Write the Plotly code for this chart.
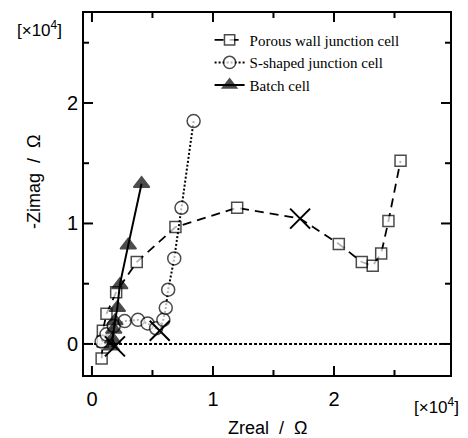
import plotly.graph_objects as go

# Values in units of 10^4 ohm
porous_x = [0.08, 0.09, 0.09, 0.12, 0.20, 0.37, 0.69, 1.20, 1.72, 2.04, 2.23, 2.32, 2.39, 2.45, 2.55]
porous_y = [-0.12, 0.02, 0.11, 0.25, 0.43, 0.68, 0.97, 1.13, 1.04, 0.83, 0.68, 0.65, 0.75, 1.02, 1.52]
porous_mark_idx = 8

sshape_x = [0.08, 0.12, 0.18, 0.27, 0.38, 0.46, 0.53, 0.56, 0.59, 0.61, 0.63, 0.68, 0.74, 0.84]
sshape_y = [0.02, 0.08, 0.15, 0.19, 0.20, 0.17, 0.13, 0.11, 0.20, 0.30, 0.45, 0.71, 1.13, 1.85]
sshape_mark_idx = 7

batch_x = [0.16, 0.19, 0.17, 0.18, 0.19, 0.21, 0.23, 0.30, 0.41]
batch_y = [-0.02, -0.02, 0.04, 0.12, 0.19, 0.30, 0.49, 0.82, 1.33]
batch_mark_idx = 1

series_names = ["Porous wall junction cell", "S-shaped junction cell", "Batch cell"]
major_ticks = [0, 1, 2]
minor_ticks = [0.5, 1.5, 2.5]
tick_labels = ["0", "1", "2"]

X_RANGE = [-0.074, 2.967]
Y_RANGE = [-0.266, 2.755]

W, H = 468, 438
ML, MR, MT, MB = 83, 17, 12, 62
PW, PH = W - ML - MR, H - MT - MB


def sizes(n, base, idx):
    return [(0 if i == idx else base) for i in range(n)]


fig = go.Figure()

fig.add_trace(go.Scatter(
    x=porous_x, y=porous_y, mode="lines+markers", name=series_names[0],
    line=dict(color="black", width=1.8, dash="9px,6px"),
    marker=dict(symbol="square", size=sizes(len(porous_x), 11, porous_mark_idx),
                color="white", line=dict(color="black", width=1.5)),
))
fig.add_trace(go.Scatter(
    x=sshape_x, y=sshape_y, mode="lines+markers", name=series_names[1],
    line=dict(color="black", width=2, dash="2px,2px"),
    marker=dict(symbol="circle", size=sizes(len(sshape_x), 13, sshape_mark_idx),
                color="white", line=dict(color="black", width=1.5)),
))
fig.add_trace(go.Scatter(
    x=batch_x, y=batch_y, mode="lines+markers", name=series_names[2],
    line=dict(color="black", width=2),
    marker=dict(symbol="triangle-up", size=sizes(len(batch_x), 14, batch_mark_idx),
                color="black", line=dict(color="black", width=1.5)),
))

# characteristic points marked with a large X on each curve
fig.add_trace(go.Scatter(
    x=[porous_x[porous_mark_idx], sshape_x[sshape_mark_idx], batch_x[batch_mark_idx]],
    y=[porous_y[porous_mark_idx], sshape_y[sshape_mark_idx], batch_y[batch_mark_idx]],
    mode="markers", showlegend=False, hoverinfo="skip",
    marker=dict(symbol="x-thin-open", size=20, color="black", line=dict(color="black", width=2)),
))

fig.add_hline(y=0, x0=0.03, x1=1, line=dict(color="black", width=2, dash="3px,2px"), layer="below")

# inward ticks on all four sides, drawn as a line trace in axis units
dx_per_px = (X_RANGE[1] - X_RANGE[0]) / PW
dy_per_px = (Y_RANGE[1] - Y_RANGE[0]) / PH
tx, ty = [], []
for ticks, L in ((major_ticks, 10), (minor_ticks, 6)):
    for t in ticks:
        tx += [t, t, None, t, t, None]
        ty += [Y_RANGE[0], Y_RANGE[0] + L * dy_per_px, None,
               Y_RANGE[1], Y_RANGE[1] - L * dy_per_px, None]
        tx += [X_RANGE[0], X_RANGE[0] + L * dx_per_px, None,
               X_RANGE[1], X_RANGE[1] - L * dx_per_px, None]
        ty += [t, t, None, t, t, None]
fig.add_trace(go.Scatter(x=tx, y=ty, mode="lines", showlegend=False, hoverinfo="skip",
                         line=dict(color="black", width=2), connectgaps=False))

shapes = [
    dict(type="rect", xref="paper", yref="paper", x0=0, x1=1, y0=0, y1=1,
         line=dict(color="black", width=2), fillcolor="rgba(0,0,0,0)"),
]

axis_common = dict(
    showline=False, ticks="", showgrid=False, zeroline=False,
    tickmode="array", tickvals=major_ticks, ticktext=tick_labels,
    tickfont=dict(family="Liberation Sans", size=20, color="black"),
)

fig.update_xaxes(range=X_RANGE, ticklabelstandoff=9, **axis_common)
fig.update_yaxes(range=Y_RANGE, ticklabelstandoff=4, **axis_common)

ann_font = dict(family="Liberation Sans", size=18, color="black")
mult_font = dict(family="Liberation Sans", size=17, color="black")


def px_x(p):
    return (p - ML) / PW


def px_y(p):
    return (H - MB - p) / PH


fig.update_layout(
    width=W, height=H,
    margin=dict(l=ML, r=MR, t=MT, b=MB),
    paper_bgcolor="white", plot_bgcolor="white",
    showlegend=True,
    shapes=fig.layout.shapes + tuple(shapes),
    legend=dict(x=0.344, y=0.968, xanchor="left", yanchor="top",
                bgcolor="rgba(0,0,0,0)", borderwidth=0,
                font=dict(family="Liberation Serif", size=15, color="black"),
                tracegroupgap=0, itemwidth=30),
    annotations=[
        dict(text="-Zimag  /  Ω", x=px_x(34), y=px_y(182), xref="paper", yref="paper",
             xanchor="center", yanchor="middle", textangle=-90, showarrow=False, font=ann_font),
        dict(text="Zreal  /  Ω", x=px_x(267), y=px_y(428), xref="paper", yref="paper",
             xanchor="center", yanchor="middle", showarrow=False, font=ann_font),
        dict(text="[×10<sup>4</sup>]", x=px_x(39), y=px_y(29), xref="paper", yref="paper",
             xanchor="center", yanchor="middle", showarrow=False, font=mult_font),
        dict(text="[×10<sup>4</sup>]", x=px_x(436), y=px_y(406), xref="paper", yref="paper",
             xanchor="center", yanchor="middle", showarrow=False, font=mult_font),
    ],
)

fig.write_html("out.html", config={"displayModeBar": False},
               post_script="document.body.style.margin='0';")
